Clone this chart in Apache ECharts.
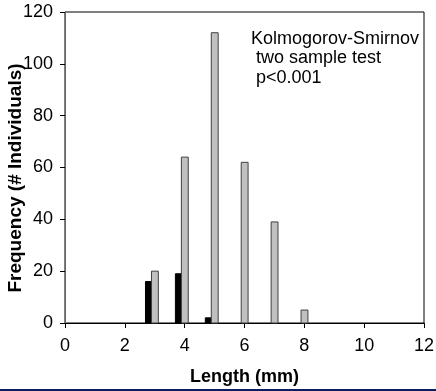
<!DOCTYPE html>
<html>
<head>
<meta charset="utf-8">
<script src="https://cdn.jsdelivr.net/npm/echarts@6/dist/echarts.min.js"></script>
<style>
	html, body { margin: 0; padding: 0; background: #fff; }
	#chart { width: 436px; height: 391px; }
</style>
</head>
<body>
<div id="chart"></div>
<script>
/* Data */
const lengths = [3, 4, 5, 6, 7, 8];
const groupA = [16, 19, 2, 0, 0, 0];
const groupB = [20, 64, 112, 62, 39, 5];
const xTicks = [0, 2, 4, 6, 8, 10, 12];
const noteLines = ["Kolmogorov-Smirnov", " two sample test", " p<0.001"];

const FONT = "Liberation Sans, Arial, sans-serif";

/* Bar renderer: offset is in axis units, relative to the length value */
function barRenderer(offset, width, style) {
	return function (_, api) {
		const x = api.value(0);
		const h = api.value(1);
		if (h <= 0) return null;
		const start = api.coord([x + offset, h]);
		const size = api.size([width, h]);
		return {
			type: "rect",
			shape: { x: start[0], y: start[1], width: size[0], height: size[1] },
			style: style,
		};
	};
}

const axisLineStyle = { color: "#000", width: 1 };

const option = {
	animation: false,
	grid: {
		left: 65, right: 12, top: 12, bottom: 68,
		containLabel: false, outerBoundsMode: "none",
		show: true, borderColor: "#000", borderWidth: 1,
	},
	title: {
		text: noteLines.join("\n"),
		left: 251,
		top: 29,
		padding: 0,
		textStyle: { fontFamily: FONT, fontSize: 18, fontWeight: "normal", color: "#000", lineHeight: 19.5 },
	},
	xAxis: {
		type: "value",
		min: xTicks[0],
		max: xTicks[xTicks.length - 1],
		interval: xTicks[1] - xTicks[0],
		name: "Length (mm)",
		nameLocation: "middle",
		nameGap: 45,
		nameMoveOverlap: false,
		nameTextStyle: { fontFamily: FONT, fontSize: 18, fontWeight: "bold", color: "#000" },
		axisLine: { lineStyle: axisLineStyle },
		axisTick: { show: true, length: 5, lineStyle: axisLineStyle },
		axisLabel: { fontFamily: FONT, fontSize: 18, color: "#000", margin: 14 },
		splitLine: { show: false },
	},
	yAxis: {
		type: "value",
		min: 0,
		max: 120,
		interval: 20,
		name: "Frequency (# Individuals)",
		nameLocation: "middle",
		nameGap: 40,
		nameMoveOverlap: false,
		nameTextStyle: { fontFamily: FONT, fontSize: 19, fontWeight: "bold", color: "#000", padding: [0, 0, 0, -21] },
		axisLine: { show: true, lineStyle: { color: "#666", width: 1 } },
		axisTick: { show: true, length: 5, lineStyle: axisLineStyle },
		axisLabel: { fontFamily: FONT, fontSize: 18, color: "#000", margin: 12 },
		splitLine: { show: false },
	},
	series: [
		{
			type: "custom",
			data: lengths.map((x, i) => [x, groupA[i]]),
			renderItem: barRenderer(-0.31, 0.2, { fill: "#000", stroke: "#000", lineWidth: 1 }),
		},
		{
			type: "custom",
			data: lengths.map((x, i) => [x, groupB[i]]),
			renderItem: barRenderer(-0.11, 0.23, { fill: "#c0c0c0", stroke: "#404040", lineWidth: 1 }),
		},
	],
	graphic: [
		{
			type: "rect",
			left: 0,
			top: 389,
			shape: { width: 436, height: 2 },
			style: { fill: "#0a1f5c" },
		},
	],
};

const myChart = echarts.init(document.getElementById("chart"));
myChart.setOption(option);
</script>
</body>
</html>
